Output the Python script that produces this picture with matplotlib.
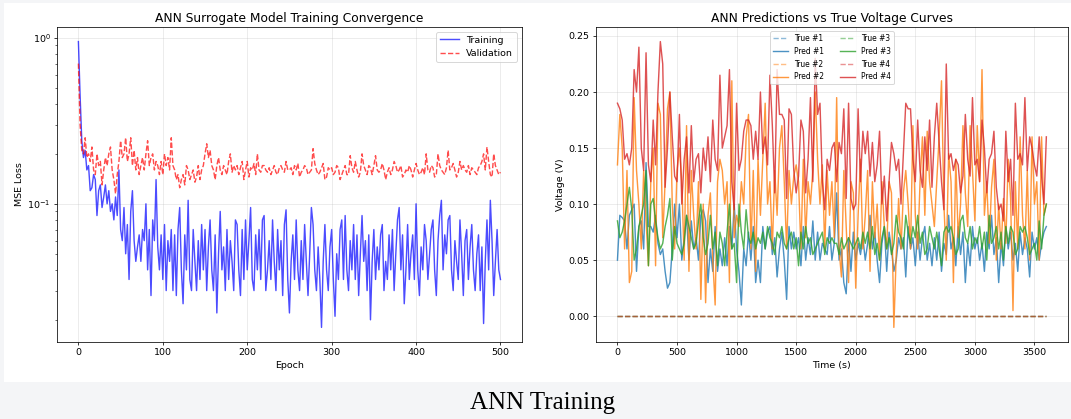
import numpy as np
import matplotlib
matplotlib.use("Agg")
import matplotlib.pyplot as plt
from matplotlib.patches import Rectangle

# Training / validation MSE, read every 2 epochs (0..500)
train_loss = [
    0.95, 0.45, 0.24, 0.19, 0.21, 0.16, 0.17, 0.12, 0.125, 0.15, 0.14, 0.085, 0.12, 0.13, 0.095, 0.11, 0.13, 0.10, 0.12, 0.09, 0.10, 0.08, 0.11, 0.085, 0.16,
    0.07, 0.06, 0.095, 0.05, 0.075, 0.035, 0.09, 0.12, 0.06, 0.045, 0.055, 0.065, 0.045, 0.07, 0.06, 0.10, 0.04, 0.07, 0.028, 0.08, 0.06, 0.14, 0.055, 0.04, 0.065,
    0.035, 0.075, 0.03, 0.06, 0.045, 0.07, 0.03, 0.065, 0.028, 0.07, 0.095, 0.04, 0.025, 0.065, 0.04, 0.105, 0.035, 0.03, 0.07, 0.045, 0.03, 0.06, 0.035, 0.075, 0.04,
    0.07, 0.03, 0.055, 0.08, 0.04, 0.03, 0.065, 0.022, 0.05, 0.09, 0.04, 0.055, 0.03, 0.07, 0.035, 0.06, 0.045, 0.03, 0.08, 0.075, 0.04, 0.028, 0.07, 0.035, 0.08,
    0.04, 0.06, 0.095, 0.035, 0.03, 0.065, 0.04, 0.07, 0.035, 0.08, 0.085, 0.03, 0.04, 0.06, 0.035, 0.08, 0.045, 0.03, 0.07, 0.04, 0.06, 0.028, 0.075, 0.092, 0.035,
    0.022, 0.045, 0.065, 0.035, 0.08, 0.04, 0.03, 0.06, 0.035, 0.075, 0.045, 0.028, 0.05, 0.095, 0.075, 0.04, 0.03, 0.055, 0.035, 0.018, 0.045, 0.075, 0.04, 0.03, 0.055,
    0.07, 0.035, 0.021, 0.05, 0.035, 0.07, 0.08, 0.035, 0.085, 0.04, 0.03, 0.06, 0.04, 0.075, 0.035, 0.065, 0.028, 0.05, 0.085, 0.045, 0.06, 0.03, 0.065, 0.02, 0.045,
    0.07, 0.035, 0.055, 0.04, 0.065, 0.075, 0.03, 0.045, 0.035, 0.065, 0.04, 0.07, 0.03, 0.05, 0.08, 0.095, 0.04, 0.065, 0.025, 0.04, 0.075, 0.035, 0.05, 0.065, 0.035,
    0.10, 0.04, 0.028, 0.055, 0.04, 0.075, 0.06, 0.035, 0.05, 0.07, 0.08, 0.04, 0.028, 0.06, 0.085, 0.105, 0.04, 0.065, 0.05, 0.08, 0.085, 0.04, 0.03, 0.06, 0.045,
    0.035, 0.08, 0.05, 0.028, 0.06, 0.07, 0.035, 0.055, 0.075, 0.04, 0.03, 0.05, 0.065, 0.03, 0.055, 0.019, 0.045, 0.08, 0.04, 0.105, 0.06, 0.028, 0.045, 0.07, 0.04,
    0.035,
]
val_loss = [
    0.70, 0.30, 0.21, 0.20, 0.25, 0.19, 0.20, 0.18, 0.22, 0.16, 0.15, 0.20, 0.17, 0.18, 0.13, 0.16, 0.19, 0.17, 0.20, 0.22, 0.16, 0.14, 0.115, 0.15, 0.18,
    0.24, 0.19, 0.20, 0.25, 0.18, 0.20, 0.25, 0.17, 0.21, 0.16, 0.19, 0.15, 0.17, 0.19, 0.16, 0.20, 0.24, 0.17, 0.19, 0.20, 0.16, 0.18, 0.17, 0.15, 0.18,
    0.15, 0.20, 0.17, 0.19, 0.16, 0.25, 0.17, 0.16, 0.14, 0.15, 0.125, 0.14, 0.15, 0.13, 0.17, 0.16, 0.14, 0.15, 0.16, 0.135, 0.145, 0.17, 0.14, 0.16, 0.17,
    0.20, 0.23, 0.19, 0.21, 0.17, 0.16, 0.14, 0.17, 0.19, 0.16, 0.15, 0.17, 0.16, 0.15, 0.18, 0.20, 0.155, 0.17, 0.16, 0.17, 0.15, 0.165, 0.18, 0.14, 0.16,
    0.18, 0.145, 0.165, 0.16, 0.175, 0.15, 0.20, 0.16, 0.155, 0.17, 0.17, 0.16, 0.155, 0.165, 0.15, 0.16, 0.17, 0.155, 0.15, 0.165, 0.17, 0.16, 0.155, 0.18, 0.16,
    0.16, 0.165, 0.15, 0.17, 0.16, 0.175, 0.145, 0.155, 0.16, 0.17, 0.165, 0.15, 0.155, 0.16, 0.215, 0.175, 0.16, 0.15, 0.155, 0.165, 0.175, 0.14, 0.145, 0.165, 0.16,
    0.165, 0.15, 0.155, 0.17, 0.165, 0.14, 0.15, 0.16, 0.17, 0.15, 0.15, 0.195, 0.165, 0.155, 0.18, 0.16, 0.145, 0.155, 0.20, 0.17, 0.16, 0.15, 0.17, 0.165, 0.15,
    0.17, 0.195, 0.16, 0.155, 0.16, 0.175, 0.16, 0.14, 0.155, 0.165, 0.15, 0.16, 0.18, 0.17, 0.155, 0.16, 0.17, 0.145, 0.15, 0.16, 0.155, 0.17, 0.16, 0.145, 0.16,
    0.175, 0.16, 0.15, 0.155, 0.165, 0.15, 0.20, 0.16, 0.155, 0.17, 0.165, 0.145, 0.15, 0.20, 0.17, 0.16, 0.155, 0.15, 0.165, 0.21, 0.16, 0.165, 0.175, 0.16, 0.145,
    0.155, 0.18, 0.16, 0.17, 0.16, 0.155, 0.17, 0.15, 0.165, 0.16, 0.155, 0.15, 0.165, 0.17, 0.18, 0.20, 0.16, 0.22, 0.18, 0.15, 0.145, 0.20, 0.17, 0.16, 0.15,
    0.155,
]

# Predicted voltage curves, read every 20 s (0..3600)
pred_1 = [
    0.05, 0.09, 0.088, 0.085, 0.06, 0.09, 0.095, 0.10, 0.04, 0.08, 0.085, 0.06, 0.137, 0.08, 0.08,
    0.075, 0.09, 0.065, 0.055, 0.06, 0.04, 0.025, 0.03, 0.06, 0.10, 0.07, 0.10, 0.05, 0.07, 0.09,
    0.05, 0.085, 0.06, 0.07, 0.05, 0.09, 0.095, 0.085, 0.03, 0.06, 0.04, 0.08, 0.04, 0.06, 0.045,
    0.07, 0.045, 0.08, 0.06, 0.10, 0.06, 0.04, 0.01, 0.06, 0.045, 0.075, 0.05, 0.08, 0.03, 0.05,
    0.03, 0.08, 0.06, 0.075, 0.08, 0.055, 0.07, 0.035, 0.06, 0.075, 0.05, 0.015, 0.08, 0.06, 0.075,
    0.06, 0.07, 0.045, 0.08, 0.05, 0.07, 0.055, 0.085, 0.05, 0.075, 0.05, 0.065, 0.06, 0.055, 0.08,
    0.05, 0.065, 0.11, 0.05, 0.06, 0.03, 0.02, 0.07, 0.04, 0.075, 0.05, 0.065, 0.055, 0.07, 0.05,
    0.065, 0.09, 0.06, 0.075, 0.05, 0.03, 0.065, 0.08, 0.04, 0.075, 0.06, 0.04, 0.05, 0.07, 0.06,
    0.07, 0.035, 0.08, 0.06, 0.07, 0.045, 0.075, 0.05, 0.07, 0.08, 0.05, 0.065, 0.045, 0.07, 0.05,
    0.075, 0.04, 0.065, 0.055, 0.09, 0.06, 0.07, 0.045, 0.08, 0.055, 0.075, 0.03, 0.065, 0.045, 0.08,
    0.06, 0.07, 0.05, 0.065, 0.04, 0.075, 0.06, 0.09, 0.055, 0.07, 0.03, 0.065, 0.045, 0.08, 0.06,
    0.075, 0.05, 0.065, 0.04, 0.075, 0.055, 0.07, 0.06, 0.035, 0.075, 0.06, 0.07, 0.05, 0.065, 0.075,
    0.08,
]
pred_2 = [
    0.135, 0.18, 0.15, 0.06, 0.13, 0.03, 0.04, 0.195, 0.13, 0.10, 0.06, 0.13, 0.085, 0.045, 0.12,
    0.15, 0.045, 0.19, 0.18, 0.07, 0.12, 0.185, 0.20, 0.10, 0.06, 0.13, 0.15, 0.12, 0.05, 0.17,
    0.04, 0.13, 0.09, 0.06, 0.12, 0.015, 0.10, 0.012, 0.09, 0.11, 0.05, 0.01, 0.12, 0.14, 0.13,
    0.10, 0.12, 0.03, 0.21, 0.07, 0.09, 0.08, 0.12, 0.10, 0.16, 0.18, 0.06, 0.13, 0.04, 0.14,
    0.09, 0.14, 0.19, 0.10, 0.12, 0.06, 0.13, 0.09, 0.15, 0.17, 0.12, 0.06, 0.13, 0.10, 0.125,
    0.135, 0.12, 0.06, 0.14, 0.07, 0.12, 0.10, 0.13, 0.20, 0.14, 0.10, 0.135, 0.06, 0.13, 0.09,
    0.12, 0.07, 0.195, 0.06, 0.035, 0.13, 0.08, 0.03, 0.12, 0.11, 0.025, 0.09, 0.14, 0.06, 0.09,
    0.13, 0.04, 0.12, 0.07, 0.10, 0.05, 0.12, 0.08, 0.06, 0.12, 0.11, -0.01, 0.055, 0.105, 0.06,
    0.11, 0.13, 0.10, 0.06, 0.17, 0.09, 0.06, 0.12, 0.16, 0.09, 0.165, 0.12, 0.10, 0.08, 0.12,
    0.16, 0.21, 0.10, 0.05, 0.145, 0.12, 0.03, 0.14, 0.07, 0.10, 0.17, 0.11, 0.08, 0.17, 0.13,
    0.085, 0.17, 0.12, 0.22, 0.09, 0.12, 0.065, 0.115, 0.14, 0.05, 0.10, 0.06, 0.105, 0.065, 0.14,
    0.105, 0.005, 0.12, 0.06, 0.16, 0.09, 0.06, 0.13, 0.05, 0.16, 0.10, 0.12, 0.05, 0.16, 0.09,
    0.10,
]
pred_3 = [
    0.085, 0.07, 0.075, 0.085, 0.10, 0.115, 0.095, 0.05, 0.06, 0.08, 0.09, 0.10, 0.13, 0.045, 0.10,
    0.105, 0.085, 0.07, 0.06, 0.065, 0.08, 0.09, 0.105, 0.05, 0.08, 0.065, 0.06, 0.055, 0.065, 0.09,
    0.08, 0.07, 0.06, 0.065, 0.085, 0.10, 0.07, 0.055, 0.065, 0.09, 0.06, 0.075, 0.045, 0.075, 0.065,
    0.045, 0.075, 0.10, 0.06, 0.065, 0.03, 0.10, 0.075, 0.06, 0.095, 0.07, 0.065, 0.075, 0.06, 0.07,
    0.065, 0.075, 0.06, 0.08, 0.07, 0.065, 0.055, 0.075, 0.07, 0.08, 0.065, 0.06, 0.07, 0.075, 0.06,
    0.07, 0.045, 0.075, 0.06, 0.08, 0.065, 0.07, 0.055, 0.06, 0.065, 0.07, 0.075, 0.055, 0.07, 0.065,
    0.07, 0.065, 0.065, 0.055, 0.07, 0.06, 0.065, 0.07, 0.065, 0.06, 0.065, 0.07, 0.06, 0.075, 0.065,
    0.075, 0.06, 0.08, 0.055, 0.065, 0.05, 0.07, 0.08, 0.06, 0.07, 0.055, 0.065, 0.09, 0.075, 0.07,
    0.06, 0.09, 0.075, 0.065, 0.08, 0.07, 0.09, 0.065, 0.075, 0.055, 0.06, 0.08, 0.07, 0.06, 0.075,
    0.06, 0.045, 0.075, 0.08, 0.075, 0.08, 0.07, 0.055, 0.06, 0.085, 0.09, 0.07, 0.065, 0.08, 0.06,
    0.07, 0.065, 0.08, 0.06, 0.075, 0.05, 0.09, 0.065, 0.07, 0.08, 0.06, 0.075, 0.05, 0.08, 0.065,
    0.08, 0.075, 0.055, 0.06, 0.08, 0.075, 0.08, 0.07, 0.055, 0.06, 0.065, 0.05, 0.085, 0.06, 0.09,
    0.10,
]
pred_4 = [
    0.19, 0.185, 0.175, 0.14, 0.145, 0.135, 0.15, 0.22, 0.20, 0.24, 0.15, 0.13, 0.235, 0.135, 0.12,
    0.175, 0.135, 0.20, 0.245, 0.225, 0.115, 0.15, 0.20, 0.16, 0.125, 0.12, 0.18, 0.10, 0.14, 0.16,
    0.11, 0.17, 0.12, 0.14, 0.145, 0.11, 0.15, 0.13, 0.16, 0.12, 0.175, 0.14, 0.13, 0.215, 0.15,
    0.16, 0.17, 0.22, 0.12, 0.095, 0.19, 0.13, 0.14, 0.165, 0.175, 0.175, 0.17, 0.14, 0.165, 0.14,
    0.20, 0.145, 0.16, 0.135, 0.215, 0.17, 0.11, 0.22, 0.18, 0.18, 0.175, 0.105, 0.185, 0.18, 0.13,
    0.11, 0.125, 0.175, 0.165, 0.11, 0.14, 0.195, 0.12, 0.23, 0.18, 0.19, 0.12, 0.095, 0.14, 0.13,
    0.15, 0.155, 0.12, 0.155, 0.145, 0.185, 0.105, 0.19, 0.105, 0.095, 0.10, 0.185, 0.12, 0.165, 0.145,
    0.165, 0.125, 0.155, 0.12, 0.135, 0.165, 0.10, 0.125, 0.085, 0.12, 0.155, 0.145, 0.13, 0.14, 0.10,
    0.145, 0.19, 0.185, 0.185, 0.14, 0.12, 0.175, 0.13, 0.115, 0.16, 0.13, 0.175, 0.115, 0.16, 0.19,
    0.155, 0.12, 0.095, 0.225, 0.14, 0.145, 0.13, 0.14, 0.135, 0.11, 0.125, 0.18, 0.14, 0.125, 0.195,
    0.135, 0.14, 0.12, 0.175, 0.15, 0.11, 0.14, 0.145, 0.165, 0.115, 0.095, 0.10, 0.085, 0.165, 0.12,
    0.14, 0.09, 0.19, 0.14, 0.145, 0.135, 0.195, 0.13, 0.16, 0.15, 0.135, 0.125, 0.16, 0.125, 0.10,
    0.16,
]
# true voltage level of each curve (flat)
true_level = [0.0, 0.0, 0.0, 0.0]
curve_names = ["#1", "#2", "#3", "#4"]

fig = plt.figure(figsize=(1071 / 68, 419 / 68), dpi=68, facecolor="#f4f5f7")
# white card behind the plots
fig.patches.append(Rectangle((4 / 1071, 37 / 419), 1 - 4 / 1071, 379 / 419,
                             transform=fig.transFigure, facecolor="white",
                             edgecolor="none", zorder=-10))

ax1 = fig.add_axes([0.0535, 0.1845, 0.4335, 0.7504])
ax2 = fig.add_axes([0.5565, 0.1845, 0.4405, 0.7504])

# Left: convergence
ax1.plot(np.linspace(0, 500, len(train_loss)), train_loss, color="blue",
         alpha=0.7, lw=1.5, label="Training")
ax1.plot(np.linspace(0, 500, len(val_loss)), val_loss, "r--", alpha=0.7, lw=1.5,
         label="Validation")
ax1.set_yscale("log")
ax1.set_xlabel("Epoch")
ax1.set_ylabel("MSE Loss")
ax1.set_title("ANN Surrogate Model Training Convergence", fontsize=13)
ax1.legend(loc="upper right")
ax1.grid(True, alpha=0.3)

# Right: predictions vs truth
colors = plt.rcParams["axes.prop_cycle"].by_key()["color"]
for k, pred in enumerate([pred_1, pred_2, pred_3, pred_4]):
    t = np.linspace(0, 3600, len(pred))
    ax2.plot(t, np.full(len(t), true_level[k]), "--", color=colors[k], alpha=0.5,
             lw=1.5, label=f"True {curve_names[k]}")
    ax2.plot(t, pred, "-", color=colors[k], alpha=0.8, lw=1.5,
             label=f"Pred {curve_names[k]}")
ax2.set_xlabel("Time (s)")
ax2.set_ylabel("Voltage (V)")
ax2.set_title("ANN Predictions vs True Voltage Curves", fontsize=13)
ax2.legend(loc="upper center", ncol=2, fontsize=8)
ax2.grid(True, alpha=0.3)

fig.text(0.507, 0.038, "ANN Training", ha="center", va="center",
         fontsize=26.5, family="Liberation Serif")

fig.savefig("out.png", dpi=68, facecolor=fig.get_facecolor())
